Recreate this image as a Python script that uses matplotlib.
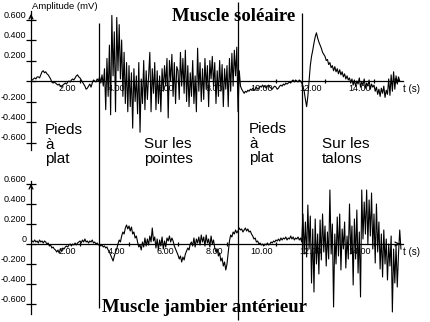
import numpy as np
import matplotlib.pyplot as plt
from matplotlib.transforms import ScaledTranslation

# EMG traces, one value every 0.05 s (mV), one row per second
dt = 0.05
soleus_mv = [
    0.00, 0.01, 0.02, 0.03, 0.02, 0.04, 0.04, 0.03, 0.06, 0.09, 0.10, 0.08, 0.09, 0.07, 0.06, 0.04, 0.02, -0.01, -0.02, -0.01,
    -0.02, -0.03, -0.04, -0.03, -0.05, -0.06, -0.04, -0.03, -0.02, -0.03, -0.01, 0.00, -0.01, 0.01, 0.02, 0.01, 0.03, 0.05, 0.06, 0.04,
    0.03, 0.01, -0.01, -0.03, -0.05, -0.08, -0.07, -0.05, -0.03, -0.06, -0.02, 0.01, 0.00, -0.01, 0.02, 0.00, 0.04, -0.02, 0.06, -0.05,
    0.12, -0.28, 0.22, -0.15, 0.35, -0.33, 0.64, 0.05, 0.48, -0.30, 0.62, 0.10, 0.55, 0.02, 0.40, -0.15, 0.28, -0.22, 0.18, -0.30,
    0.15, -0.25, 0.08, -0.46, 0.12, -0.20, 0.05, -0.32, 0.18, -0.50, 0.02, -0.22, 0.20, -0.28, 0.10, -0.18, 0.05, 0.28, -0.30, 0.12,
    -0.12, 0.18, -0.28, 0.10, -0.22, 0.05, -0.30, 0.12, -0.10, 0.15, -0.05, 0.22, -0.36, 0.20, 0.00, 0.26, -0.15, 0.18, -0.22, 0.14,
    0.10, -0.18, 0.28, -0.05, 0.22, -0.12, 0.30, -0.20, 0.15, -0.25, 0.08, -0.15, 0.20, -0.22, 0.05, -0.30, 0.32, -0.10, 0.18, -0.20,
    0.12, -0.18, 0.22, -0.08, 0.15, -0.25, 0.20, 0.02, 0.24, -0.05, 0.18, -0.22, 0.10, -0.15, 0.20, -0.10, 0.16, -0.25, 0.12, -0.08,
    0.15, -0.25, 0.22, -0.10, 0.27, -0.05, 0.30, 0.05, 0.33, -0.30, 0.10, -0.05, -0.08, -0.10, -0.12, -0.10, -0.11, -0.09, -0.10, -0.08,
    -0.09, -0.07, -0.09, -0.08, -0.06, -0.08, -0.07, -0.05, -0.06, -0.04, -0.06, -0.05, -0.07, -0.05, -0.04, -0.06, -0.07, -0.08, -0.06, -0.05,
    -0.06, -0.08, -0.07, -0.05, -0.04, -0.05, -0.03, -0.04, -0.02, -0.03, -0.02, -0.01, -0.02, 0.00, 0.01, -0.01, 0.01, 0.00, -0.01, 0.01,
    0.00, -0.02, -0.05, -0.10, -0.18, -0.25, -0.15, 0.00, 0.15, 0.24, 0.30, 0.37, 0.43, 0.47, 0.42, 0.38, 0.35, 0.32, 0.28, 0.26,
    0.24, 0.20, 0.21, 0.16, 0.18, 0.13, 0.15, 0.10, 0.14, 0.09, 0.12, 0.07, 0.11, 0.06, 0.09, 0.04, 0.07, 0.02, 0.05, 0.01,
    0.03, -0.02, 0.02, -0.04, 0.01, -0.05, 0.00, -0.03, 0.03, -0.06, -0.01, -0.04, 0.02, -0.07, -0.02, -0.05, 0.01, -0.08, -0.03, -0.06,
    -0.04, -0.10, -0.06, -0.13, -0.08, -0.15, -0.07, -0.12, -0.05, -0.16, -0.09, -0.13, 0.02, -0.14, 0.06, -0.10, 0.09, -0.08, 0.05, -0.03,
    0.04, 0.00,
]
tibialis_mv = [
    0.01, 0.03, 0.02, 0.04, 0.02, 0.03, 0.01, 0.04, 0.02, 0.03, 0.01, 0.03, 0.02, 0.00, 0.01, -0.02, -0.01, -0.04, -0.03, -0.05,
    -0.06, -0.08, -0.06, -0.09, -0.05, -0.07, -0.04, -0.05, -0.03, -0.02, -0.03, -0.01, 0.00, -0.02, 0.00, -0.01, 0.01, -0.01, 0.01, 0.02,
    0.03, 0.01, 0.04, 0.02, 0.05, 0.02, 0.03, 0.01, 0.03, 0.02, 0.04, 0.01, 0.02, 0.00, 0.01, -0.01, 0.00, -0.02, -0.01, -0.03,
    -0.02, -0.04, -0.03, -0.06, -0.08, -0.11, -0.14, -0.17, -0.12, -0.08, -0.05, 0.00, 0.04, 0.02, 0.08, 0.12, 0.10, 0.16, 0.19, 0.15,
    0.18, 0.13, 0.17, 0.10, 0.12, 0.06, 0.08, 0.02, -0.03, -0.01, -0.06, 0.02, -0.03, 0.06, -0.02, 0.05, -0.01, 0.08, 0.02, 0.16,
    0.03, 0.07, -0.04, 0.05, -0.06, 0.04, -0.02, 0.07, -0.05, 0.03, -0.03, 0.06, 0.03, 0.08, 0.02, 0.06, 0.03, -0.02, -0.05, -0.08,
    -0.11, -0.15, -0.12, -0.18, -0.13, -0.16, -0.10, -0.07, -0.04, -0.06, 0.00, 0.02, -0.02, 0.06, -0.03, 0.05, 0.01, 0.07, -0.01, 0.09,
    0.02, 0.07, -0.02, 0.09, 0.01, 0.05, -0.03, 0.08, 0.00, 0.04, -0.04, -0.08, -0.05, -0.12, -0.09, -0.17, -0.14, -0.22, -0.18, -0.26,
    -0.20, -0.08, 0.03, 0.09, 0.07, 0.12, 0.10, 0.14, 0.11, 0.13, 0.16, 0.14, 0.15, 0.12, 0.14, 0.16, 0.13, 0.15, 0.12, 0.13,
    0.10, 0.08, 0.05, 0.06, 0.02, 0.03, 0.00, 0.01, -0.01, 0.00, -0.02, 0.00, -0.01, 0.01, -0.01, 0.00, 0.02, 0.01, 0.03, 0.02,
    0.04, 0.03, 0.05, 0.03, 0.06, 0.04, 0.06, 0.05, 0.07, 0.04, 0.06, 0.05, 0.08, 0.05, 0.07, 0.04, 0.06, 0.05, 0.07, 0.04,
    0.06, 0.02, 0.30, -0.10, 0.22, -0.13, 0.39, -0.05, 0.28, -0.39, 0.15, -0.48, 0.25, -0.20, 0.10, -0.30, 0.24, -0.16, 0.30, -0.08,
    0.18, -0.22, 0.12, -0.15, 0.54, -0.10, 0.20, -0.63, 0.10, -0.20, 0.27, -0.12, 0.30, -0.26, 0.15, -0.05, 0.22, -0.24, 0.08, -0.15,
    0.40, -0.10, 0.18, -0.41, 0.25, -0.15, 0.34, -0.29, 0.12, -0.53, 0.54, 0.05, 0.42, 0.10, 0.54, 0.00, 0.44, 0.08, 0.51, -0.05,
    0.30, -0.19, 0.40, -0.08, 0.22, -0.25, 0.10, -0.33, 0.14, -0.20, 0.05, -0.36, 0.00, -0.22, 0.08, -0.68, -0.05, -0.39, -0.02, -0.43,
    -0.10, 0.14, -0.05,
]

# phase changes (s) and the phase names
boundaries = [2.76, 8.45, 11.05]
phase_labels = ['Pieds\nà\nplat', 'Sur les\npointes', 'Pieds\nà\nplat', 'Sur les\ntalons']

x_ticks = [2, 4, 6, 8, 10, 12, 14]
x_labels = ['2.00', '4.00', '6.00', '8.00', '10.00', '12.00', '14.00']
y_ticks = [0.6, 0.4, 0.2, 0.0, -0.2, -0.4, -0.6]
y_labels_top = ['0.600', '0.400', '0.200', '', '-0.200', '-0.400', '-0.600']
y_labels_bot = ['0.600', '0.400', '0.200', '0', '-0.200', '-0.400', '-0.600']

W, H = 430, 322
X0, X1 = 31, 403          # pixel columns of t = 0 and right end of the time axis
PX_PER_S = 24.5
T_END = (X1 - X0) / PX_PER_S
SMALL = 'Liberation Sans'

fig = plt.figure(figsize=(W / 100, H / 100), dpi=100)
fig.patch.set_facecolor('white')


def px_axes(top, bottom):
    return fig.add_axes([X0 / W, 1 - bottom / H, (X1 - X0) / W, (bottom - top) / H])


def style_axis(ax, zero_px, top_px, bottom_px, px_per_mv, ylabels):
    ax.set_xlim(0, T_END)
    ax.set_ylim((zero_px - bottom_px) / px_per_mv, (zero_px - top_px) / px_per_mv)
    ax.patch.set_alpha(0)
    for s in ['top', 'right']:
        ax.spines[s].set_visible(False)
    ax.spines['left'].set_position(('data', 0))
    ax.spines['bottom'].set_position(('data', 0))
    for s in ['left', 'bottom']:
        ax.spines[s].set_linewidth(0.9)
    ax.set_xticks(x_ticks)
    ax.set_xticklabels(x_labels)
    ax.set_yticks(y_ticks)
    ax.set_yticklabels(ylabels)
    ax.tick_params(axis='y', direction='inout', length=7, width=0.9, pad=0, labelsize=6.5)
    ax.tick_params(axis='x', direction='inout', length=3, width=0.9, pad=1, labelsize=6.5)
    shift_x = ScaledTranslation(-2.5 / 72, 0, fig.dpi_scale_trans)
    for lab in ax.get_xticklabels():
        lab.set_ha('right')
        lab.set_family(SMALL)
        lab.set_transform(lab.get_transform() + shift_x)
    for lab in ax.get_yticklabels():
        lab.set_va('bottom')
        lab.set_family(SMALL)
    # arrows at the ends of both axes
    ax.annotate('', xy=(0, 1), xycoords=('data', 'axes fraction'),
                xytext=(0, 0.93), textcoords=('data', 'axes fraction'),
                arrowprops=dict(arrowstyle='->', lw=0.9, mutation_scale=7))
    ax.annotate('', xy=(T_END, 0), xytext=(T_END - 0.3, 0),
                arrowprops=dict(arrowstyle='->', lw=0.9, mutation_scale=7))


ax_top = px_axes(11, 150)
style_axis(ax_top, 81, 11, 150, 102.5, y_labels_top)
t_top = np.arange(len(soleus_mv)) * dt
ax_top.plot(t_top, soleus_mv, color='black', lw=0.8)

ax_bot = px_axes(181, 314)
style_axis(ax_bot, 244, 181, 314, 100.0, y_labels_bot)
t_bot = np.arange(len(tibialis_mv)) * dt
ax_bot.plot(t_bot, tibialis_mv, color='black', lw=0.8)

# overlay: time on x, pixel rows on y, for the phase separators
ax_ov = fig.add_axes([0, 0, 1, 1])
ax_ov.set_xlim(-X0 / PX_PER_S, (W - X0) / PX_PER_S)
ax_ov.set_ylim(H, 0)
ax_ov.axis('off')
ax_ov.vlines(boundaries, [23, 2, 13], [308, 320, 305], color='black', lw=0.9)


def ftext(x, y, s, **kw):
    fig.text(x / W, 1 - y / H, s, **kw)


ftext(32, 6.5, 'Amplitude (mV)', fontsize=6.8, va='center', family=SMALL)
ftext(403, 89, 't (s)', fontsize=7, va='center', family=SMALL)
ftext(403, 252, 't (s)', fontsize=7, va='center', family=SMALL)

ftext(172, 21, 'Muscle soléaire', fontsize=13.5, fontweight='bold',
      family='Liberation Serif', va='baseline')
ftext(102, 312, 'Muscle jambier antérieur', fontsize=13.5, fontweight='bold',
      family='Liberation Serif', va='baseline')

label_pos = [(45, 123), (144, 137), (249, 122), (322, 137)]
for (x, y), s in zip(label_pos, phase_labels):
    ftext(x, y, s, fontsize=11, family='Liberation Sans', va='top', linespacing=1.05)

fig.savefig('out.png', dpi=100, facecolor='white')
